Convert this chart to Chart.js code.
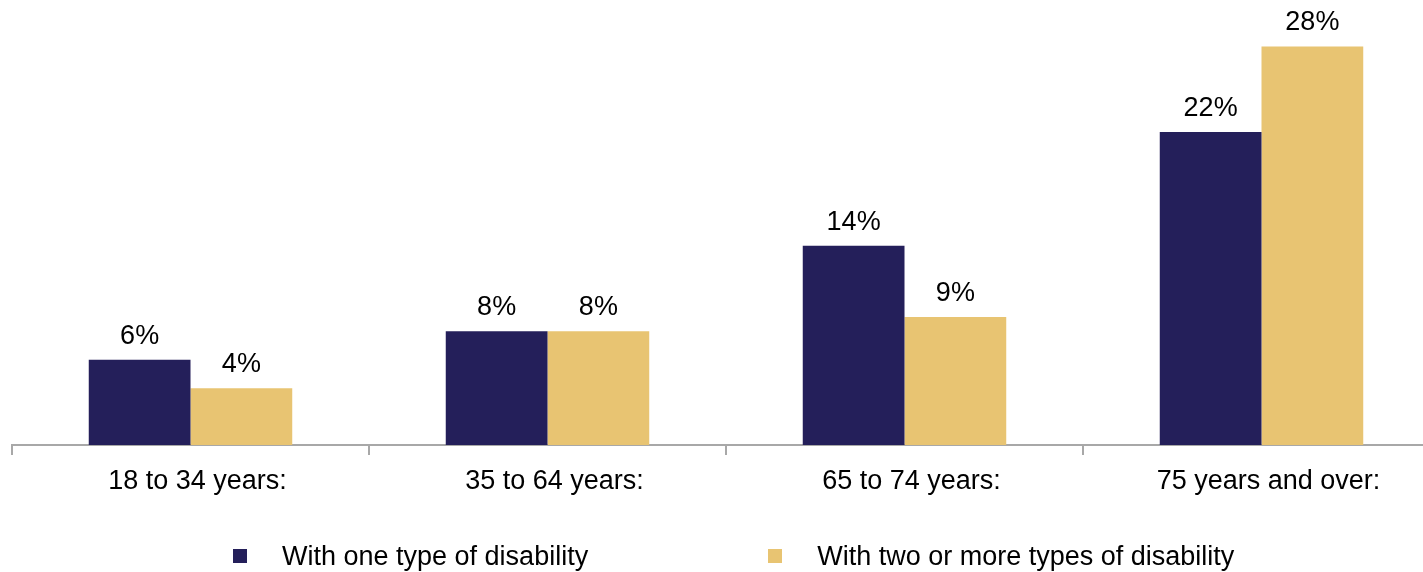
<!DOCTYPE html>
<html>
<head>
<meta charset="utf-8">
<script src="https://cdn.jsdelivr.net/npm/chart.js@4"></script>
<style>
  html, body { margin: 0; padding: 0; background: #fff; overflow: hidden; }
  #wrap { position: relative; width: 1440px; height: 572px; }
  #legend {
    position: absolute; left: 233px; top: 540px; height: 32px;
    display: flex; align-items: center;
    font-family: "Liberation Sans", Arial, sans-serif; font-size: 27px; color: #000;
  }
  #legend .item { display: flex; align-items: center; white-space: nowrap; }
  #legend .item + .item { margin-left: 180px; }
  #legend .swatch { width: 14px; height: 14px; margin-right: 35px; }
</style>
</head>
<body>
<div id="wrap">
  <canvas id="ageChart"></canvas>
  <div id="legend"></div>
</div>
<script>
const ageGroups = ["18 to 34 years:", "35 to 64 years:", "65 to 74 years:", "75 years and over:"];
const oneTypeValues = [6, 8, 14, 22];
const twoOrMoreValues = [4, 8, 9, 28];
const seriesNames = ["With one type of disability", "With two or more types of disability"];
const seriesColors = ["#241f5a", "#e8c472"];

const FONT = '"Liberation Sans", Arial, sans-serif';

// percentage labels above each bar
const valueLabels = {
    id: 'valueLabels',
    afterDatasetsDraw(chart) {
        const ctx = chart.ctx;
        ctx.save();
        ctx.font = '27px ' + FONT;
        ctx.fillStyle = '#000';
        ctx.textAlign = 'center';
        ctx.textBaseline = 'alphabetic';
        chart.data.datasets.forEach((ds, i) => {
            chart.getDatasetMeta(i).data.forEach((bar, j) => {
                ctx.fillText(Math.round(ds.data[j]) + '%', bar.x, bar.y - 16);
            });
        });
        ctx.restore();
    }
};

const ctx = document.getElementById('ageChart').getContext('2d');
new Chart(ctx, {
    type: 'bar',
    data: {
        labels: ageGroups,
        datasets: [
            { label: seriesNames[0], data: oneTypeValues, backgroundColor: seriesColors[0] },
            { label: seriesNames[1], data: twoOrMoreValues, backgroundColor: seriesColors[1] }
        ]
    },
    options: {
        responsive: true,
        maintainAspectRatio: false,
        animation: false,
        categoryPercentage: 0.57,
        barPercentage: 1,
        layout: { padding: { top: 18, left: 12, right: 0, bottom: 64.5 } },
        plugins: {
            legend: { display: false },
            tooltip: { enabled: false }
        },
        scales: {
            x: {
                grid: { drawOnChartArea: false, drawTicks: true, tickLength: 10, lineWidth: 2, color: '#a8a8a8' },
                border: { display: true, color: '#a8a8a8', width: 2 },
                ticks: { font: { family: FONT, size: 27 }, color: '#000', padding: 10, labelOffset: 7 }
            },
            y: { display: false, min: 0, max: 30 }
        }
    },
    plugins: [valueLabels]
});

// legend below the chart
const legend = document.getElementById('legend');
seriesNames.forEach((name, i) => {
    const item = document.createElement('div');
    item.className = 'item';
    item.innerHTML = `<span class="swatch" style="background:${seriesColors[i]}"></span><span>${name}</span>`;
    legend.appendChild(item);
});
</script>
</body>
</html>
